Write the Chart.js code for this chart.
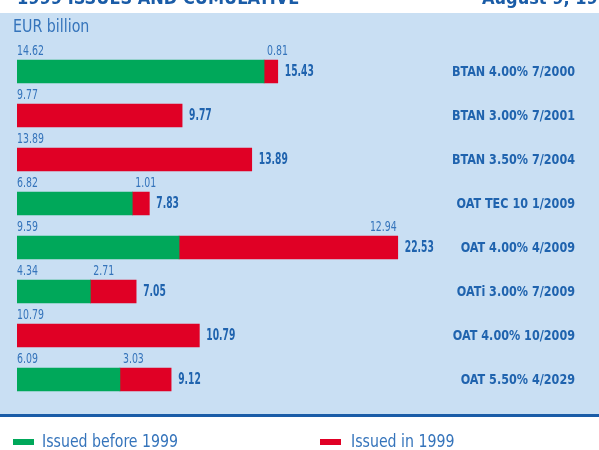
<!DOCTYPE html>
<html lang="en">
<head>
  <meta charset="UTF-8">
  <title>1999 Issues and Cumulative</title>
  <script src="https://cdn.jsdelivr.net/npm/chart.js"></script>
  <style>
    body { margin: 0; background: #fff; }
    canvas { display: block; }
  </style>
</head>
<body>
  <canvas id="issuesChart" width="599" height="450"></canvas>

  <script>
    // Chart data (EUR billion)
    const categories = ['BTAN 4.00% 7/2000', 'BTAN 3.00% 7/2001', 'BTAN 3.50% 7/2004', 'OAT TEC 10 1/2009',
                        'OAT 4.00% 4/2009', 'OATi 3.00% 7/2009', 'OAT 4.00% 10/2009', 'OAT 5.50% 4/2029'];
    const before1999 = [14.62, null, null, 6.82, 9.59, 4.34, null, 6.09];
    const in1999 = [0.81, 9.77, 13.89, 1.01, 12.94, 2.71, 10.79, 3.03];
    const totals = [15.43, 9.77, 13.89, 7.83, 22.53, 7.05, 10.79, 9.12];
    const legendLabels = ['Issued before 1999', 'Issued in 1999'];

    const GREEN = '#00a85a';
    const RED = '#e00025';
    const PANEL = '#c9dff3';
    const TEXT = '#3574bb';
    const TEXT_BOLD = '#1f63ae';
    const NARROW = '"Liberation Sans Narrow", "DejaVu Sans Condensed", sans-serif';

    // draw text squeezed horizontally (the original uses a condensed face)
    function squeezed(ctx, text, x, y, align, sx) {
      ctx.save();
      ctx.translate(x, y);
      ctx.scale(sx, 1);
      ctx.textAlign = align;
      ctx.fillText(text, 0, 0);
      ctx.restore();
    }

    // background panel, title strip, unit and legend
    const backdrop = {
      id: 'backdrop',
      beforeDraw(chart) {
        const ctx = chart.ctx;
        ctx.save();
        ctx.fillStyle = '#fff';
        ctx.fillRect(0, 0, chart.width, chart.height);
        ctx.fillStyle = PANEL;
        ctx.fillRect(0, 13, chart.width, 401);
        ctx.fillStyle = '#1a5ca7';
        ctx.fillRect(0, 414, chart.width, 3);

        // title, cut off at the top
        ctx.fillStyle = '#1a5ca7';
        ctx.font = 'bold 18px ' + NARROW;
        ctx.textBaseline = 'alphabetic';
        squeezed(ctx, '1999 ISSUES AND CUMULATIVE', 17, 4, 'left', 1);
        squeezed(ctx, 'August 9, 1999', 482, 4, 'left', 1);

        ctx.fillStyle = TEXT;
        ctx.font = '17px ' + NARROW;
        squeezed(ctx, 'EUR billion', 13, 32, 'left', 0.93);

        // legend
        const items = [[GREEN, 13, 42], [RED, 320, 351]];
        items.forEach(([col, sx, tx], i) => {
          ctx.fillStyle = col;
          ctx.fillRect(sx, 439, 21, 6);
          ctx.fillStyle = TEXT;
          ctx.textBaseline = 'middle';
          squeezed(ctx, legendLabels[i], tx, 443, 'left', 0.925);
        });
        ctx.restore();
      }
    };

    // value labels, totals and bond names
    const barLabels = {
      id: 'barLabels',
      afterDatasetsDraw(chart) {
        const ctx = chart.ctx;
        const x = chart.scales.x;
        const y = chart.scales.y;
        const x0 = x.getPixelForValue(0);
        ctx.save();
        categories.forEach((name, i) => {
          const cy = y.getPixelForValue(i);
          const top = cy - 16.5;
          const b = before1999[i] || 0;
          const r = in1999[i] || 0;

          ctx.font = '14.5px ' + NARROW;
          ctx.fillStyle = TEXT;
          ctx.textBaseline = 'alphabetic';
          if (b > 0) {
            squeezed(ctx, b.toFixed(2), x0, top, 'left', 0.72);
            const rs = x.getPixelForValue(b);
            const re = x.getPixelForValue(b + r);
            if (re - rs > 100) {
              squeezed(ctx, r.toFixed(2), re - 1, top, 'right', 0.72);
            } else {
              squeezed(ctx, r.toFixed(2), rs + 3, top, 'left', 0.72);
            }
          } else {
            squeezed(ctx, r.toFixed(2), x0, top, 'left', 0.72);
          }

          ctx.font = 'bold 15px ' + NARROW;
          ctx.fillStyle = TEXT_BOLD;
          ctx.textBaseline = 'middle';
          squeezed(ctx, totals[i].toFixed(2), x.getPixelForValue(b + r) + 7, cy + 1, 'left', 0.68);
          ctx.font = 'bold 14px ' + NARROW;
          squeezed(ctx, name, 575, cy + 1, 'right', 0.89);
        });
        ctx.restore();
      }
    };

    const ctx = document.getElementById('issuesChart').getContext('2d');
    new Chart(ctx, {
      type: 'bar',
      data: {
        labels: categories,
        datasets: [
          { label: legendLabels[0], data: before1999, backgroundColor: GREEN, barThickness: 23 },
          { label: legendLabels[1], data: in1999, backgroundColor: RED, barThickness: 23 }
        ]
      },
      options: {
        indexAxis: 'y',
        responsive: false,
        animation: false,
        layout: { padding: { left: 17, right: 75, top: 49.5, bottom: 48.5 } },
        scales: {
          x: { stacked: true, min: 0, max: 30, display: false },
          y: { stacked: true, display: false }
        },
        plugins: {
          legend: { display: false },
          tooltip: { enabled: false }
        }
      },
      plugins: [backdrop, barLabels]
    });
  </script>
</body>
</html>
